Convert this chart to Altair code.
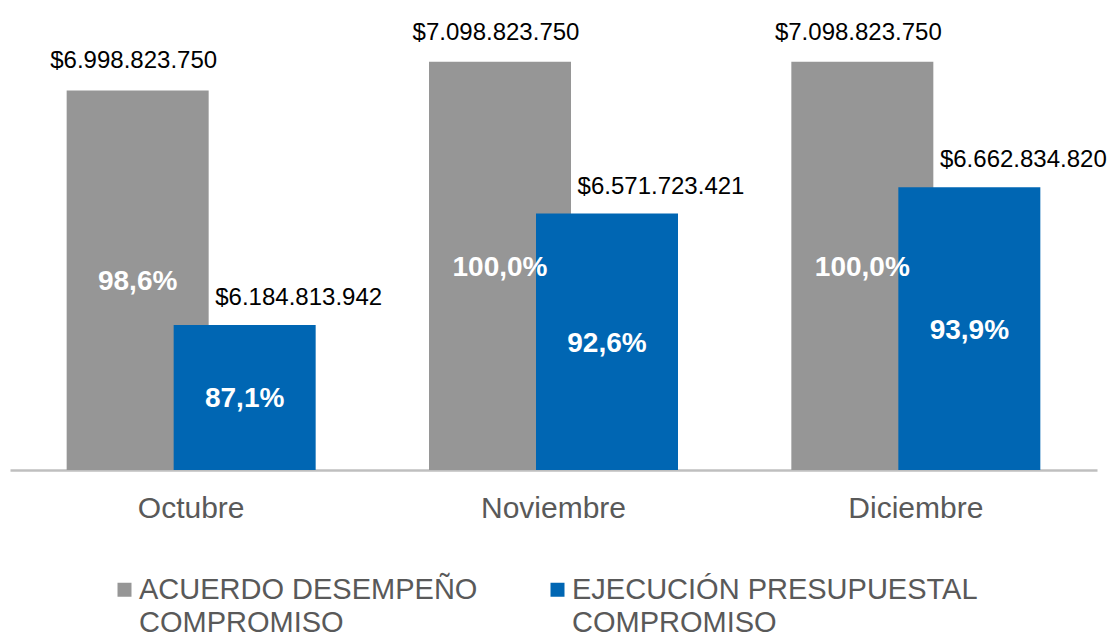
import altair as alt
import pandas as pd

months = ["Octubre", "Noviembre", "Diciembre"]
series = ["ACUERDO DESEMPEÑO COMPROMISO", "EJECUCIÓN PRESUPUESTAL COMPROMISO"]
colors = ["#969696", "#0066b3"]

acuerdo_values = [6998823750, 7098823750, 7098823750]
acuerdo_pct = [98.6, 100.0, 100.0]
ejecucion_values = [6184813942, 6571723421, 6662834820]
ejecucion_pct = [87.1, 92.6, 93.9]

y_min = 5681.4e6
y_max = 7285.2e6

rows = []
for m, v, p in zip(months, acuerdo_values, acuerdo_pct):
    rows.append({"month": m, "series": series[0], "value": v, "pct": p})
for m, v, p in zip(months, ejecucion_values, ejecucion_pct):
    rows.append({"month": m, "series": series[1], "value": v, "pct": p})
df = pd.DataFrame(rows)

FONT = "Liberation Sans"
BAR_W = 142
OFF = 53.5

base = alt.Chart(df).transform_calculate(
    money="'$' + join(split(format(datum.value, ','), ','), '.')",
    pctlabel="replace(format(datum.pct, '.1f'), '.', ',') + '%'",
    mid=f"(datum.value + {y_min}) / 2",
)

x_enc = alt.X(
    "month:N",
    sort=months,
    scale=alt.Scale(paddingInner=0, paddingOuter=0),
    axis=alt.Axis(
        title=None,
        labelAngle=0,
        ticks=False,
        domainColor="#bfbfbf",
        domainWidth=2.5,
        labelFontSize=30,
        labelColor="#595959",
        labelFont=FONT,
        labelPadding=23,
        labelBaseline="top",
    ),
)
y_scale = alt.Scale(domain=[y_min, y_max], zero=False, nice=False)

color_enc = alt.Color(
    "series:N",
    scale=alt.Scale(domain=series, range=colors),
    legend=alt.Legend(
        title=None,
        orient="none",
        legendX=100,
        legendY=567,
        direction="horizontal",
        labelFont=FONT,
        labelFontSize=29,
        labelColor="#595959",
        labelLimit=700,
        labelBaseline="middle",
        labelOffset=0,
        symbolType="square",
        symbolSize=196,
        symbolStrokeWidth=0,
        symbolOpacity=1,
        columnPadding=65,
        padding=0,
        labelExpr="[slice(datum.label, 0, lastindexof(datum.label, ' ')), slice(datum.label, lastindexof(datum.label, ' ') + 1)]",
    ),
)


def bars(s, off):
    return base.transform_filter(alt.datum.series == s).mark_bar(
        width=BAR_W, xOffset=off, clip=True
    ).encode(x=x_enc, y=alt.Y("value:Q", scale=y_scale, axis=None), color=color_enc)


def value_labels(s, off, dy):
    return base.transform_filter(alt.datum.series == s).mark_text(
        xOffset=off, dy=dy, baseline="alphabetic", fontSize=24, font=FONT, color="#000000"
    ).encode(x=x_enc, y=alt.Y("value:Q", scale=y_scale, axis=None), text="money:N")


def pct_labels(s, off):
    return base.transform_filter(alt.datum.series == s).mark_text(
        xOffset=off, dy=2, baseline="middle", fontSize=28, fontWeight="bold", font=FONT, color="white"
    ).encode(x=x_enc, y=alt.Y("mid:Q", scale=y_scale, axis=None), text="pctlabel:N")


chart = alt.layer(
    bars(series[0], -OFF),
    value_labels(series[0], -OFF - 4, -22),
    bars(series[1], OFF),
    value_labels(series[1], OFF + 54, -20),
    pct_labels(series[0], -OFF),
    pct_labels(series[1], OFF),
).properties(
    width=1087,
    height=462,
    padding={"left": 2, "top": 0, "right": 0, "bottom": 0},
).configure(
    style={"guide-label": {"lineHeight": 33}},
    view=alt.ViewConfig(stroke=None),
)

chart.save("out.html", embed_options={"renderer": "svg", "actions": False})
